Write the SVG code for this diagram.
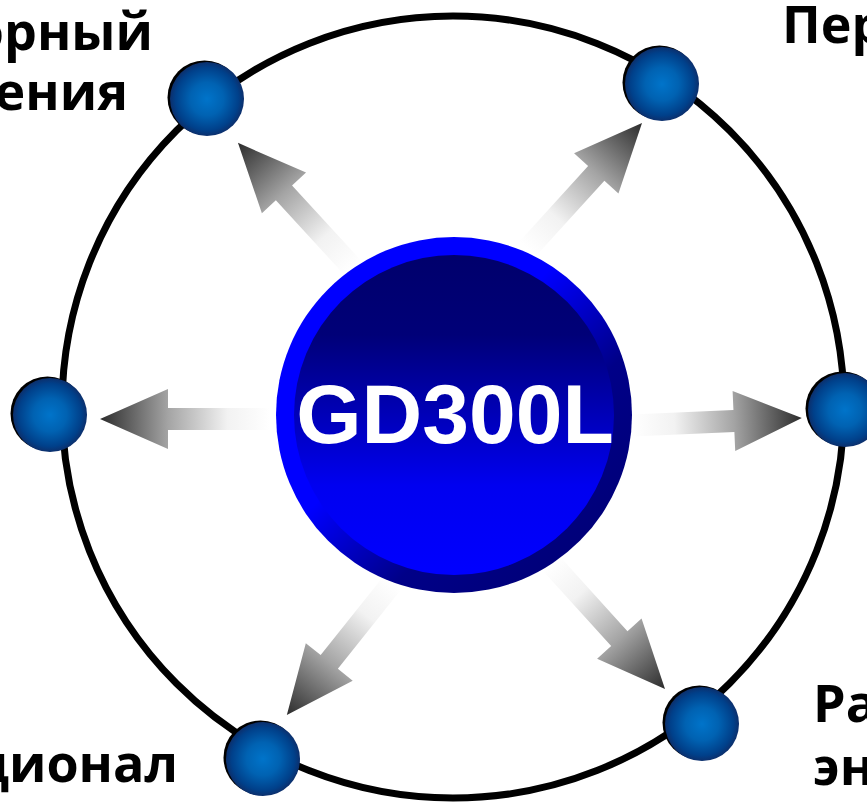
<svg xmlns="http://www.w3.org/2000/svg" width="867" height="804" viewBox="0 0 867 804">
  <defs>
    <style>
      .lbl { font-family: "Open Sans", "Noto Sans", "DejaVu Sans", sans-serif; font-weight: bold; font-size: 52px; fill: #000; }
      .ring { fill: none; stroke: #000; stroke-width: 7; }
      .shadow { fill: #000; }
      .sphere { fill: url(#sph); }
      .arrow { fill: url(#arr); }
    </style>
    <radialGradient id="sph" cx="0.5" cy="0.5" r="0.5">
      <stop offset="0" stop-color="#0074ca"/>
      <stop offset="0.45" stop-color="#0062b2"/>
      <stop offset="0.85" stop-color="#00408a"/>
      <stop offset="1" stop-color="#0c2f6c"/>
    </radialGradient>
    <linearGradient id="arr" gradientUnits="userSpaceOnUse" x1="0" y1="0" x2="170" y2="0">
      <stop offset="0" stop-color="#ffffff"/>
      <stop offset="0.25" stop-color="#f2f2f2"/>
      <stop offset="0.6" stop-color="#a4a4a4"/>
      <stop offset="1" stop-color="#2c2c2c"/>
    </linearGradient>
    <linearGradient id="outer" x1="0.15" y1="0.15" x2="0.85" y2="0.85">
      <stop offset="0.4" stop-color="#0000ff"/>
      <stop offset="0.72" stop-color="#000088"/>
      <stop offset="1" stop-color="#00007a"/>
    </linearGradient>
    <linearGradient id="inner" x1="0" y1="0" x2="0" y2="1">
      <stop offset="0" stop-color="#00006c"/>
      <stop offset="0.25" stop-color="#000078"/>
      <stop offset="0.72" stop-color="#0000f0"/>
      <stop offset="1" stop-color="#0000ff"/>
    </linearGradient>
    <polygon id="arrowShape" points="0,-11 102,-11 102,-30 170,0 102,30 102,11 0,11"/>
  </defs>

  <rect width="867" height="804" fill="#ffffff"/>

  <circle id="orbit" class="ring" cx="453" cy="407" r="391"/>

  <g id="connectors">
    <use href="#arrowShape" class="arrow" transform="translate(270,419) rotate(180)"/>
    <use href="#arrowShape" class="arrow" transform="translate(632,425.4) rotate(-2.5)"/>
    <use href="#arrowShape" class="arrow" transform="translate(353,268) rotate(-132.6)"/>
    <use href="#arrowShape" class="arrow" transform="translate(527.6,248.8) rotate(-47.7)"/>
    <use href="#arrowShape" class="arrow" transform="translate(392.9,582.2) rotate(128.6)"/>
    <use href="#arrowShape" class="arrow" transform="translate(550.8,563) rotate(47.8)"/>
  </g>

  <g id="center">
    <circle cx="454" cy="415" r="178" fill="url(#outer)"/>
    <circle cx="454" cy="415" r="160" fill="url(#inner)"/>
    <text x="455" y="443" text-anchor="middle" font-family="'Liberation Sans', Arial, sans-serif" font-weight="bold" font-size="84" fill="#ffffff">GD300L</text>
  </g>

  <g id="node-top-left">
    <circle class="shadow" cx="204.5" cy="97.5" r="37"/>
    <circle class="sphere" cx="207" cy="99" r="37"/>
    <text class="lbl" x="153" y="50" text-anchor="end">орный</text>
    <text class="lbl" x="128" y="110" text-anchor="end">ения</text>
  </g>

  <g id="node-top-right">
    <circle class="shadow" cx="659.5" cy="82.5" r="37"/>
    <circle class="sphere" cx="662" cy="84" r="37"/>
    <text class="lbl" x="782" y="43">Пер</text>
  </g>

  <g id="node-left">
    <circle class="shadow" cx="47.5" cy="413.5" r="37"/>
    <circle class="sphere" cx="50" cy="415" r="37"/>
  </g>

  <g id="node-right">
    <circle class="shadow" cx="842.5" cy="408.5" r="37"/>
    <circle class="sphere" cx="845" cy="410" r="37"/>
  </g>

  <g id="node-bottom-left">
    <circle class="shadow" cx="260.5" cy="757.5" r="37"/>
    <circle class="sphere" cx="263" cy="759" r="37"/>
    <text class="lbl" x="178" y="782" text-anchor="end">ционал</text>
  </g>

  <g id="node-bottom-right">
    <circle class="shadow" cx="699.5" cy="722.5" r="37"/>
    <circle class="sphere" cx="702" cy="724" r="37"/>
    <text class="lbl" x="813" y="722">Ра</text>
    <text class="lbl" x="813" y="785">эн</text>
  </g>
</svg>
